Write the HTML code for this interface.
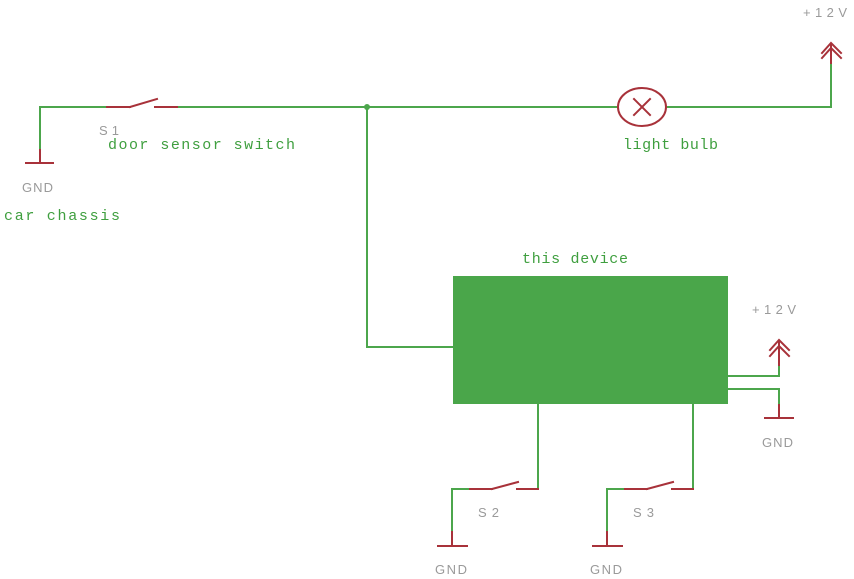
<!DOCTYPE html>
<html><head><meta charset="utf-8"><style>
html,body{margin:0;padding:0;background:#fff;}
svg{display:block;}
.g{font-family:"Liberation Mono",monospace;font-size:15px;fill:#3f9f3f;}
.t{font-family:"Liberation Sans",sans-serif;font-size:13px;fill:#9a9a9a;}
</style></head><body>
<svg width="854" height="579" viewBox="0 0 854 579" xmlns="http://www.w3.org/2000/svg">
<g fill="none" stroke-width="2" stroke-linecap="square">
<!-- green wires -->
<g stroke="#4ca64c">
<polyline points="40,150 40,107 107,107"/>
<line x1="177" y1="107" x2="617" y2="107"/>
<polyline points="667,107 831,107 831,63"/>
<polyline points="367,107 367,347 453,347"/>
<polyline points="728,376 779,376 779,365"/>
<polyline points="728,389 779,389 779,405"/>
<polyline points="538,404 538,489 517,489"/>
<polyline points="470,489 452,489 452,532"/>
<polyline points="693,404 693,489 672,489"/>
<polyline points="625,489 607,489 607,532"/>
</g>
<!-- red symbols -->
<g stroke="#a8323a">
<!-- S1 -->
<line x1="107" y1="107" x2="130" y2="107"/>
<line x1="130" y1="107" x2="157" y2="99"/>
<line x1="155" y1="107" x2="177" y2="107"/>
<!-- GND left -->
<line x1="40" y1="150" x2="40" y2="163"/>
<line x1="26" y1="163" x2="53" y2="163"/>
<!-- bulb -->
<ellipse cx="642" cy="107" rx="24" ry="19"/>
<line x1="634" y1="99" x2="650" y2="115"/>
<line x1="650" y1="99" x2="634" y2="115"/>
<!-- +12V top -->
<line x1="831" y1="63" x2="831" y2="44"/>
<polyline points="822,53 831,43 841,53"/>
<polyline points="822,58 831,48 841,58"/>
<!-- +12V right -->
<line x1="779" y1="365" x2="779" y2="341"/>
<polyline points="770,350 779,340 789,350"/>
<polyline points="770,356 779,346 789,356"/>
<!-- GND right -->
<line x1="779" y1="405" x2="779" y2="418"/>
<line x1="765" y1="418" x2="793" y2="418"/>
<!-- S2 -->
<line x1="517" y1="489" x2="538" y2="489"/>
<line x1="492" y1="489" x2="518" y2="482"/>
<line x1="470" y1="489" x2="492" y2="489"/>
<line x1="452" y1="532" x2="452" y2="546"/>
<line x1="438" y1="546" x2="467" y2="546"/>
<!-- S3 -->
<line x1="672" y1="489" x2="693" y2="489"/>
<line x1="647" y1="489" x2="673" y2="482"/>
<line x1="625" y1="489" x2="647" y2="489"/>
<line x1="607" y1="532" x2="607" y2="546"/>
<line x1="593" y1="546" x2="622" y2="546"/>
</g>
</g>
<circle cx="367" cy="107" r="3" fill="#4ca64c"/>
<rect x="453" y="276" width="275" height="128" fill="#4aa64a"/>
<!-- labels -->
<text class="g" x="108" y="149" textLength="187" lengthAdjust="spacing">door sensor switch</text>
<text class="g" x="4" y="220" textLength="116" lengthAdjust="spacing">car chassis</text>
<text class="g" x="623" y="149" textLength="95" lengthAdjust="spacing">light bulb</text>
<text class="g" x="522" y="263" textLength="106" lengthAdjust="spacing">this device</text>
<text class="t" x="99" y="135" textLength="20" lengthAdjust="spacing">S1</text>
<text class="t" x="22" y="192" textLength="31" lengthAdjust="spacing">GND</text>
<text class="t" x="803" y="17" textLength="44" lengthAdjust="spacing">+12V</text>
<text class="t" x="752" y="314" textLength="44" lengthAdjust="spacing">+12V</text>
<text class="t" x="762" y="447" textLength="31" lengthAdjust="spacing">GND</text>
<text class="t" x="478" y="517" textLength="21" lengthAdjust="spacing">S2</text>
<text class="t" x="633" y="517" textLength="21" lengthAdjust="spacing">S3</text>
<text class="t" x="435" y="574" textLength="32" lengthAdjust="spacing">GND</text>
<text class="t" x="590" y="574" textLength="32" lengthAdjust="spacing">GND</text>
</svg>
</body></html>
